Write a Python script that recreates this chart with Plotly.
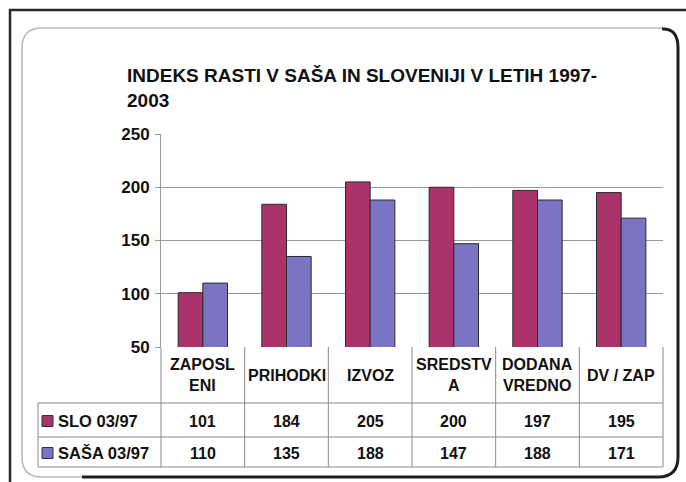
import plotly.graph_objects as go

# ---------------- data ----------------
categories = ["ZAPOSLENI", "PRIHODKI", "IZVOZ", "SREDSTVA", "DODANA VREDNO", "DV / ZAP"]
header_labels = ["ZAPOSL<br>ENI", "PRIHODKI", "IZVOZ", "SREDSTV<br>A", "DODANA<br>VREDNO", "DV / ZAP"]
series_names = ["SLO 03/97", "SAŠA 03/97"]
slo_values = [101, 184, 205, 200, 197, 195]
sasa_values = [110, 135, 188, 147, 188, 171]
y_ticks = [50, 100, 150, 200, 250]
title_text = "INDEKS RASTI V SAŠA IN SLOVENIJI V LETIH 1997-<br>2003"

# ---------------- style ----------------
W, H = 686, 482
OFF = 0                                   # body margin removed via post_script
L, R, T, B = 161 - OFF, 663 - OFF, 134 - OFF, 347 - OFF   # plot area (figure px)
COL_SLO = "#AA336C"
COL_SASA = "#7A74C2"
FONT = "Liberation Sans, Arial, sans-serif"
GRID = "#9a9a9a"
TXT = "#111111"


def px(x):
    """screen x (reference image) -> paper"""
    return (x - OFF - L) / (R - L)


def py(y):
    """screen y (reference image) -> paper"""
    return (B - (y - OFF)) / (B - T)


fig = go.Figure()
series = [(series_names[0], slo_values, COL_SLO), (series_names[1], sasa_values, COL_SASA)]
for name, vals, col in series:
    fig.add_trace(go.Bar(
        x=categories, y=vals, name=name,
        marker=dict(color=col, line=dict(color="#2b2b2b", width=1)),
        hoverinfo="x+y+name",
    ))

shapes = []
annotations = []

# ---- outer frame ----
shapes.append(dict(type="rect", xref="paper", yref="paper",
                   x0=px(10), y0=py(10), x1=px(740), y1=py(540),
                   line=dict(color="#2a2a2a", width=2.5), layer="below"))

# ---- rounded inner panel ----
l, t, r, b, rad = 22, 28, 678, 477, 20


def P(x, y):
    return f"{px(x):.5f},{py(y):.5f}"


path = (f"M {P(l+rad, t)} L {P(r-rad, t)} Q {P(r, t)} {P(r, t+rad)} "
        f"L {P(r, b-rad)} Q {P(r, b)} {P(r-rad, b)} L {P(l+rad, b)} "
        f"Q {P(l, b)} {P(l, b-rad)} L {P(l, t+rad)} Q {P(l, t)} {P(l+rad, t)} Z")
shapes.append(dict(type="path", xref="paper", yref="paper", path=path,
                   line=dict(color="#b8b8b8", width=1.5), layer="below"))
shadow = (f"M {P(r-rad+4, t+1)} Q {P(r, t)} {P(r, t+rad)} "
          f"L {P(r, b-rad)} Q {P(r, b)} {P(r-rad, b)} L {P(l+rad+40, b)}")
shapes.append(dict(type="path", xref="paper", yref="paper", path=shadow,
                   line=dict(color="#1e1e1e", width=3), layer="below"))

# ---- data table ----
TABLE_LINE = "#8a8a8a"
hdr_bottom, row1_bottom, row2_bottom, leg_left = 403, 437, 467, 38
n = len(categories)
for yy in (hdr_bottom, row1_bottom, row2_bottom):
    shapes.append(dict(type="line", xref="paper", yref="paper",
                       x0=px(leg_left), x1=1, y0=py(yy), y1=py(yy),
                       line=dict(color=TABLE_LINE, width=1)))
shapes.append(dict(type="line", xref="paper", yref="paper",
                   x0=px(leg_left), x1=px(leg_left), y0=py(hdr_bottom), y1=py(row2_bottom),
                   line=dict(color=TABLE_LINE, width=1)))
for i in range(n + 1):
    xx = i / n
    shapes.append(dict(type="line", xref="paper", yref="paper",
                       x0=xx, x1=xx, y0=0, y1=py(row2_bottom),
                       line=dict(color=TABLE_LINE, width=1)))

tfont = dict(family=FONT, size=16, color=TXT, weight="bold")
lfont = dict(family=FONT, size=16.5, color=TXT, weight="bold")
for cat, lab in zip(categories, header_labels):
    annotations.append(dict(x=cat, xref="x", y=py((347 + hdr_bottom) / 2), yref="paper",
                            text=lab, showarrow=False, font=tfont,
                            xanchor="center", yanchor="middle", align="center"))

row_centers = [(hdr_bottom + row1_bottom) / 2 + 1, (row1_bottom + row2_bottom) / 2 + 1]
for (name, vals, col), yc in zip(series, row_centers):
    for cat, v in zip(categories, vals):
        annotations.append(dict(x=cat, xref="x", y=py(yc), yref="paper",
                                text=str(v), showarrow=False, font=tfont,
                                xanchor="center", yanchor="middle"))
    annotations.append(dict(x=px(56), xref="paper", y=py(yc), yref="paper",
                            text=name, showarrow=False, font=lfont,
                            xanchor="left", yanchor="middle"))
    shapes.append(dict(type="rect", xref="paper", yref="paper",
                       x0=px(42), x1=px(53), y0=py(yc - 5.5), y1=py(yc + 5.5),
                       fillcolor=col, line=dict(color="#333333", width=1)))

fig.update_layout(
    width=W, height=H,
    margin=dict(l=L, r=W - R, t=T, b=H - B, pad=0),
    paper_bgcolor="white", plot_bgcolor="white",
    barmode="group", bargap=0.41, bargroupgap=0,
    showlegend=False,
    title=dict(text=title_text, x=(127 - OFF) / W, xref="container", xanchor="left",
               y=1 - (82 - OFF) / H, yref="container", yanchor="middle",
               font=dict(family=FONT, size=19, color=TXT, weight="bold")),
    xaxis=dict(range=[-0.5, n - 0.5], showticklabels=False, showgrid=False,
               showline=False, zeroline=False, ticks=""),
    yaxis=dict(range=[50, 250], tickvals=y_ticks, showgrid=True, gridcolor=GRID,
               gridwidth=1, showline=True, linecolor=GRID, linewidth=1,
               ticks="outside", ticklen=5, tickcolor=GRID, zeroline=False,
               ticklabelstandoff=2,
               tickfont=dict(family=FONT, size=17, color=TXT, weight="bold")),
    shapes=shapes, annotations=annotations,
)

fig.write_html(
    "out.html",
    config={"displayModeBar": False},
    post_script="document.body.style.margin='0';document.body.style.overflow='hidden';",
)
